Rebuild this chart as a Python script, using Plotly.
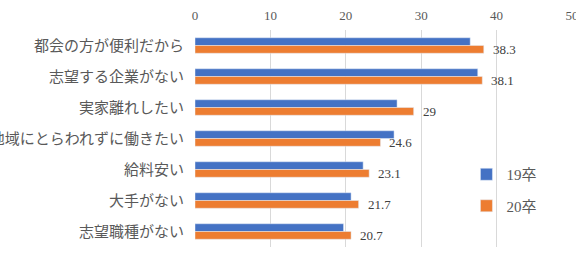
import plotly.graph_objects as go

categories = ["都会の方が便利だから", "志望する企業がない", "実家離れしたい",
              "地域にとらわれずに働きたい", "給料安い", "大手がない", "志望職種がない"]
series_names = ["19卒", "20卒"]
values_19 = [36.5, 37.5, 26.8, 26.4, 22.3, 20.7, 19.7]
values_20 = [38.3, 38.1, 29, 24.6, 23.1, 21.7, 20.7]
x_ticks = [0, 10, 20, 30, 40, 50]

BLUE = "#4472C4"
ORANGE = "#ED7D31"
SERIF = "Liberation Serif, Times New Roman, Noto Sans CJK JP, serif"

fig = go.Figure()
fig.add_trace(go.Bar(y=categories, x=values_19, name=series_names[0], orientation="h",
                     marker=dict(color=BLUE), legendgroup="a"))
fig.add_trace(go.Bar(y=categories, x=values_20, name=series_names[1], orientation="h",
                     marker=dict(color=ORANGE), legendgroup="b"))

for c, v in zip(categories, values_20):
    fig.add_annotation(x=v, y=c, text=f"{v:g}", showarrow=False, xanchor="left",
                       yanchor="middle", xshift=7, yshift=-4,
                       font=dict(family=SERIF, size=13, color="#404040"))

fig.update_layout(
    width=576, height=253,
    margin=dict(l=195, r=4, t=30, b=6, autoexpand=False),
    paper_bgcolor="white", plot_bgcolor="white",
    barmode="group", bargap=0.5, bargroupgap=0,
    font=dict(family=SERIF, color="#595959"),
    showlegend=True,
    legend=dict(x=0.72, y=0.41, xanchor="left", yanchor="top",
                font=dict(family=SERIF, size=15, color="#595959"),
                traceorder="grouped", tracegroupgap=9, itemwidth=30,
                bgcolor="rgba(0,0,0,0)"),
)
fig.update_xaxes(range=[0, 50], side="top", tickvals=x_ticks, ticktext=[str(t) for t in x_ticks],
                 showgrid=True, gridcolor="#D9D9D9", gridwidth=1, zeroline=False, automargin=False,
                 showline=False, ticks="", ticklabeloverflow="allow", ticklabelstandoff=6,
                 tickfont=dict(family=SERIF, size=13, color="#595959"))
fig.update_yaxes(autorange="reversed", showgrid=False, zeroline=False, showline=False,
                 ticks="", ticklabelstandoff=10, automargin=False,
                 tickfont=dict(family=SERIF, size=15, color="#595959"))

fig.write_html("out.html")
